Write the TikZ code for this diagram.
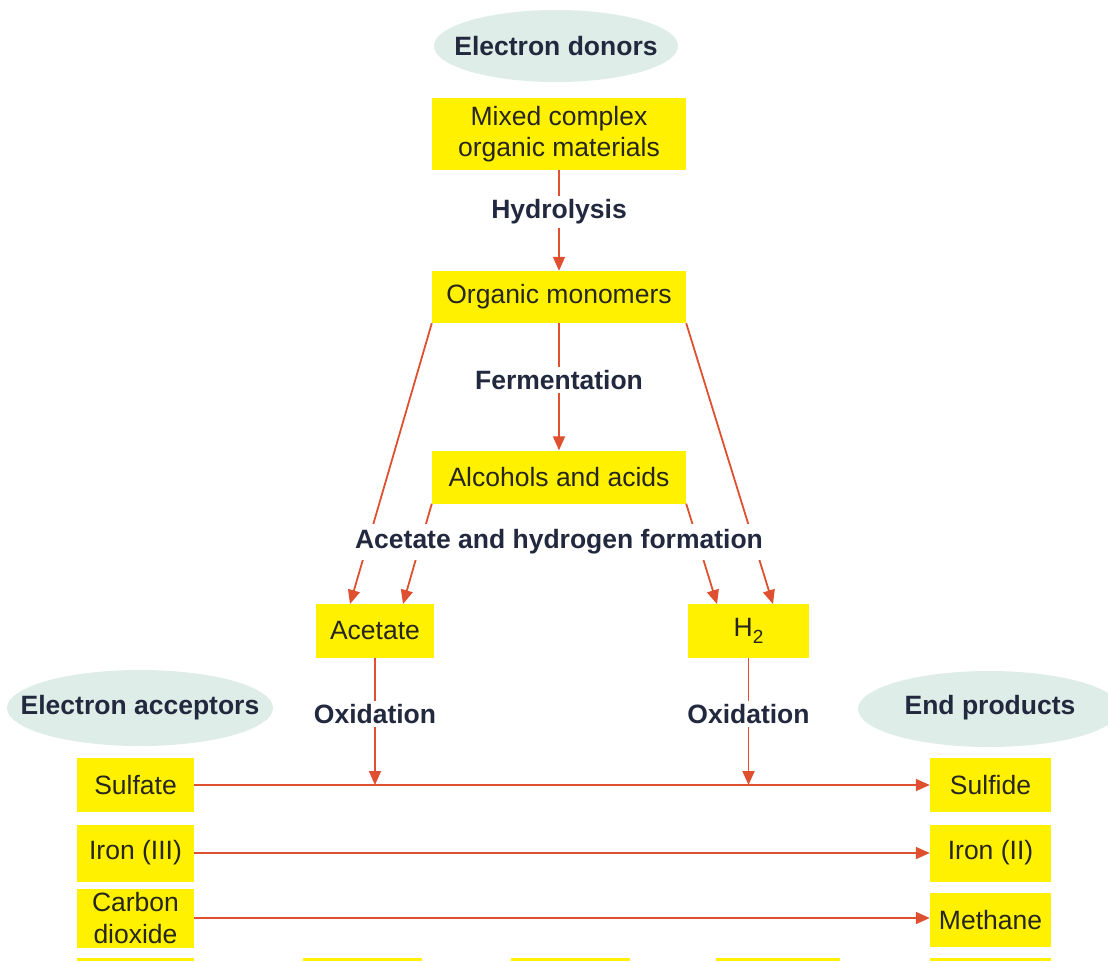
\documentclass[tikz,border=0pt]{standalone}
\usepackage{fontspec}
\setmainfont{Liberation Sans}
\usetikzlibrary{arrows.meta,shapes.geometric}

\definecolor{boxyellow}{RGB}{255,241,0}
\definecolor{mintfill}{RGB}{222,237,231}
\definecolor{flowred}{RGB}{222,80,48}
\definecolor{labelink}{RGB}{34,40,62}
\definecolor{boxink}{RGB}{38,38,30}

\tikzset{
  every node/.style={font=\fontsize{26.5}{31.5}\selectfont},
  stepbox/.style={rectangle, fill=boxyellow, text=boxink, inner sep=0pt,
    align=center},
  groupoval/.style={ellipse, fill=mintfill, inner sep=0pt},
  ovaltext/.style={text=labelink, inner sep=0pt,
    font=\fontsize{26.5}{31.5}\selectfont\bfseries},
  proclabel/.style={fill=white, text=labelink, inner sep=3pt,
    font=\fontsize{26.5}{31.5}\selectfont\bfseries},
  flow/.style={draw=flowred, line width=1.8pt},
  flowarrow/.style={flow, -{Triangle[length=14pt,width=12pt]}},
}

\begin{document}
\begin{tikzpicture}[x=1pt,y=-1pt]
\useasboundingbox (0,0) rectangle (1108,961);

% group headings
\node[groupoval, minimum width=244pt, minimum height=72pt] (donors) at (556,46) {};
\node[ovaltext] (donorstext) at (donors) {Electron donors};
\node[groupoval, minimum width=266pt, minimum height=76pt] (acceptors) at (140,708) {};
\node[ovaltext] (acceptorstext) at (acceptors) {Electron acceptors};
\node[groupoval, minimum width=262pt, minimum height=76pt] (endprod) at (989,709) {};
\node[ovaltext] (endprodtext) at (990,708) {End products};

% degradation chain
\node[stepbox, minimum width=254pt, minimum height=72pt] (mixed) at (559,134) {Mixed complex\\organic materials};
\node[stepbox, minimum width=254pt, minimum height=52pt] (organic) at (559,297) {Organic monomers};
\node[stepbox, minimum width=254pt, minimum height=53pt] (alcohols) at (559,477) {Alcohols and acids};
\node[stepbox, minimum width=118pt, minimum height=54pt] (acetate) at (375,631) {Acetate};
\node[stepbox, minimum width=121pt, minimum height=54pt] (htwo) at (748.5,631) {H\raisebox{-0.28em}{\fontsize{19}{19}\selectfont 2}};

% acceptors and products
\node[stepbox, minimum width=117pt, minimum height=54pt] (sulfate) at (135.5,785) {Sulfate};
\node[stepbox, minimum width=117pt, minimum height=57pt] (ironthree) at (135.5,853) {Iron (III)};
\node[stepbox, minimum width=117pt, minimum height=59pt] (carbon) at (135.5,918) {Carbon\\dioxide};
\node[stepbox, minimum width=121pt, minimum height=54pt] (sulfide) at (990.5,785) {Sulfide};
\node[stepbox, minimum width=121pt, minimum height=57pt] (irontwo) at (990.5,853) {Iron (II)};
\node[stepbox, minimum width=121pt, minimum height=54pt] (methane) at (990.5,920) {Methane};

% next row of boxes, cut off by the lower edge
\foreach \a/\b in {77/194, 303/422, 511/630, 716/840, 930/1051}
  \fill[boxyellow] (\a,957.5) rectangle (\b,961);

% process labels
\node[proclabel] (hydro) at (559,212) {Hydrolysis};
\node[proclabel] (ferment) at (559,380) {Fermentation};
\node[proclabel] (oxa) at (375,714) {Oxidation};
\node[proclabel] (oxb) at (748.5,714) {Oxidation};

% acetate and hydrogen formation (lines pass behind the label)
\coordinate (acetL) at (350,604);
\coordinate (acetR) at (403,604);
\coordinate (htwoL) at (717,604);
\coordinate (htwoR) at (773,604);
\draw[flowarrow] (organic.south west) -- (acetL);
\draw[flowarrow] (alcohols.south west) -- (acetR);
\draw[flowarrow] (alcohols.south east) -- (htwoL);
\draw[flowarrow] (organic.south east) -- (htwoR);
\node[proclabel, inner sep=6pt] (formation) at (559,542) {Acetate and hydrogen formation};

% vertical steps
\draw[flow] (mixed) -- (hydro);
\draw[flowarrow] (hydro) -- (organic);
\draw[flow] (organic) -- (ferment);
\draw[flowarrow] (ferment) -- (alcohols);

% electron transfer rows
\draw[flowarrow] (sulfate.east) -- (sulfate.east -| sulfide.west);
\draw[flowarrow] (ironthree.east) -- (ironthree.east -| irontwo.west);
\draw[flowarrow] (carbon.east) -- (carbon.east -| methane.west);

% oxidation of acetate and hydrogen onto the sulfate row
\draw[flow] (acetate.south) -- (oxa);
\draw[flowarrow] (oxa) -- (oxa |- sulfate.east);
\draw[flow] (htwo.south) -- (oxb);
\draw[flowarrow] (oxb) -- (oxb |- sulfate.east);
\end{tikzpicture}
\end{document}
